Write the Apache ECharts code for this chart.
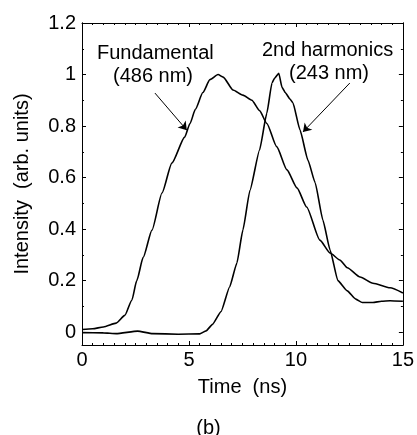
<!DOCTYPE html>
<html>
<head>
<meta charset="utf-8">
<script src="https://cdn.jsdelivr.net/npm/echarts@6/dist/echarts.min.js"></script>
<style>
html,body{margin:0;padding:0;background:#fff;}
#chart{width:417px;height:435px;}
</style>
</head>
<body>
<div id="chart"></div>
<script>
// time (ns), intensity (arb. units)
var fundamental = [
  [0, 0.01], [0.5, 0.013], [1.0, 0.02], [1.6, 0.035], [2.0, 0.065], [2.33, 0.124],
  [2.56, 0.2], [2.86, 0.29], [3.27, 0.396], [3.74, 0.54], [4.2, 0.656], [4.8, 0.757],
  [5.05, 0.81], [5.3, 0.865], [5.65, 0.93], [5.98, 0.98], [6.36, 1.0], [6.6, 0.99],
  [7.06, 0.94], [7.52, 0.92], [7.94, 0.9], [8.3, 0.86], [8.64, 0.81], [9.1, 0.72],
  [9.58, 0.63], [10.05, 0.56], [10.5, 0.486], [11.12, 0.357], [11.6, 0.307],
  [12.05, 0.28], [12.4, 0.25], [13.0, 0.214], [13.6, 0.19], [14.4, 0.172], [15.0, 0.152]
];
var harmonic = [
  [0, -0.002], [1.0, -0.003], [1.6, -0.006], [2.6, 0.004], [3.3, -0.006], [4.5, -0.008],
  [5.5, -0.007], [5.8, 0.005], [6.1, 0.03], [6.5, 0.08], [6.9, 0.175], [7.24, 0.268],
  [7.52, 0.396], [7.85, 0.55], [8.3, 0.707], [8.64, 0.85], [8.88, 0.967], [9.0, 0.985],
  [9.2, 1.005], [9.35, 0.95], [9.5, 0.93], [9.72, 0.905], [9.86, 0.89], [10.19, 0.785],
  [10.56, 0.668], [10.9, 0.58], [11.26, 0.435], [11.6, 0.318], [11.96, 0.2], [12.4, 0.16],
  [12.8, 0.128], [13.1, 0.115], [13.6, 0.115], [14.0, 0.12], [14.4, 0.122], [15.0, 0.12]
];
var yMajor = [0, 0.2, 0.4, 0.6, 0.8, 1.0, 1.2];
var yMinor = [0.1, 0.3, 0.5, 0.7, 0.9, 1.1];
// arrow annotations: [start, end] in data coords
var arrowFund = [[3.41, 0.928], [4.9, 0.784]];
var arrowHarm = [[12.52, 0.967], [10.33, 0.777]];

var font = 'Liberation Sans';
var fs = 20;

function yAx(pos, vals, len, labels){
  return {
    type: 'value', position: pos, min: -0.05, max: 1.2,
    axisLine: {show: true, lineStyle: {color: '#000', width: 1}},
    splitLine: {show: false},
    axisTick: {show: true, inside: true, length: len, customValues: vals, lineStyle: {color: '#000'}},
    axisLabel: labels ? {show: true, customValues: yMajor, color: '#000', fontFamily: font, fontSize: fs, margin: 6} : {show: false}
  };
}
function xAx(pos, labels){
  return {
    type: 'value', position: pos, min: 0, max: 15, interval: 5,
    axisLine: {show: true, onZero: false, lineStyle: {color: '#000', width: 1}},
    splitLine: {show: false},
    axisTick: {show: true, inside: true, length: 4, lineStyle: {color: '#000'}},
    minorTick: {show: true, splitNumber: 10, length: 2, lineStyle: {color: '#000'}},
    axisLabel: labels ? {show: true, color: '#000', fontFamily: font, fontSize: fs, margin: 5} : {show: false}
  };
}

var chart = echarts.init(document.getElementById('chart'));
var xa = xAx('bottom', true);
xa.name = 'Time  (ns)';
xa.nameLocation = 'middle';
xa.nameGap = 32;
xa.nameTextStyle = {color: '#000', fontFamily: font, fontSize: fs};
var ya = yAx('left', yMajor, 4, true);
ya.name = 'Intensity  (arb. units)';
ya.nameLocation = 'middle';
ya.nameGap = 50;
ya.nameTextStyle = {color: '#000', fontFamily: font, fontSize: fs};

function arrowLine(a){
  return {
    silent: true, symbol: ['none', 'arrow'], symbolSize: 8,
    lineStyle: {color: '#000', width: 1, type: 'solid'},
    label: {show: false},
    data: [[{coord: a[0]}, {coord: a[1]}]]
  };
}

chart.setOption({
  animation: false,
  backgroundColor: '#fff',
  grid: {left: 82, right: 14, top: 23, bottom: 90},
  title: {text: '(b)', left: 'center', top: 413,
    textStyle: {color: '#000', fontFamily: font, fontSize: fs, fontWeight: 'normal'}},
  xAxis: [xa, xAx('top', false)],
  yAxis: [ya, yAx('left', yMinor, 2, false), yAx('right', yMajor, 4, false), yAx('right', yMinor, 2, false)],
  graphic: [
    {type: 'text', left: 97, top: 43, style: {text: 'Fundamental', fill: '#000', font: fs + 'px "' + font + '"'}},
    {type: 'text', left: 113, top: 66, style: {text: '(486 nm)', fill: '#000', font: fs + 'px "' + font + '"'}},
    {type: 'text', left: 262, top: 40, style: {text: '2nd harmonics', fill: '#000', font: fs + 'px "' + font + '"'}},
    {type: 'text', left: 289, top: 63, style: {text: '(243 nm)', fill: '#000', font: fs + 'px "' + font + '"'}}
  ],
  series: [
    {name: 'Fundamental', type: 'line', data: fundamental, showSymbol: false,
      smooth: 0.2, smoothMonotone: 'x',
      lineStyle: {color: '#000', width: 1.6}, markLine: arrowLine(arrowFund)},
    {name: '2nd harmonics', type: 'line', data: harmonic, showSymbol: false,
      smooth: 0.15, smoothMonotone: 'x',
      lineStyle: {color: '#000', width: 1.6}, markLine: arrowLine(arrowHarm)}
  ]
});
</script>
</body>
</html>
